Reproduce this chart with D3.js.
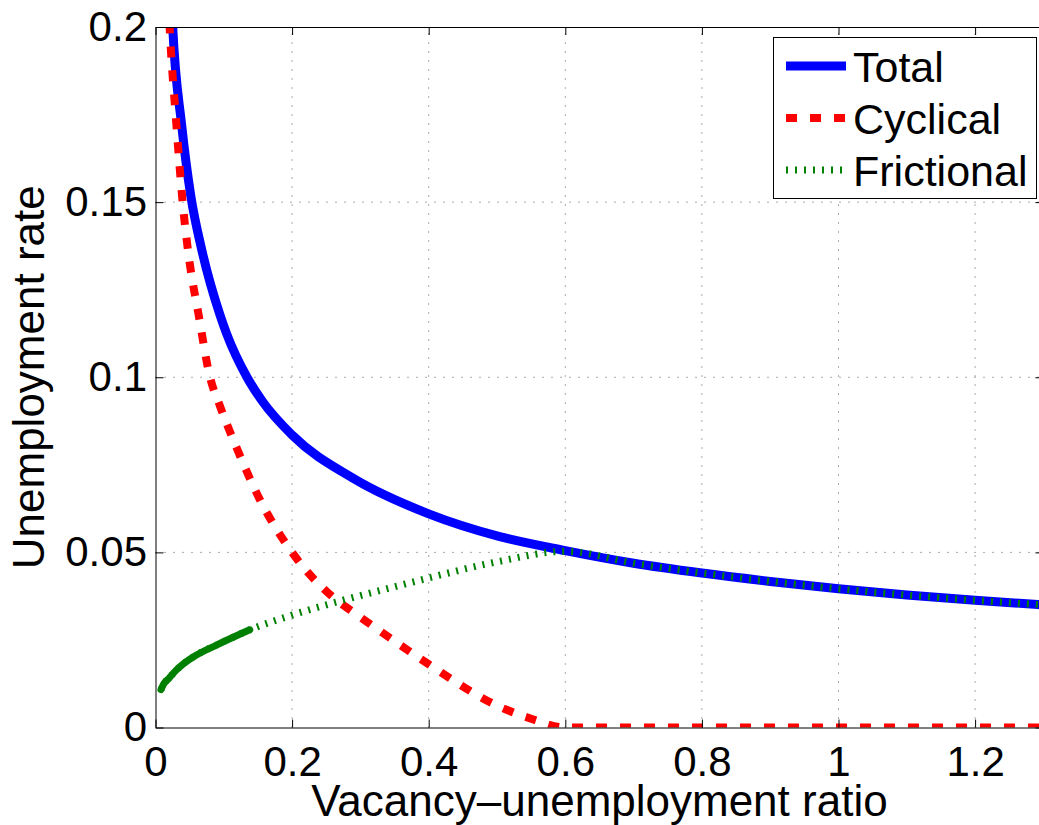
<!DOCTYPE html>
<html>
<head>
<meta charset="utf-8">
<script src="https://cdn.jsdelivr.net/npm/d3@7"></script>
<style>
  body { margin: 0; background: #fff; }
  svg { display: block; font-family: "Liberation Sans", Arial, Helvetica, sans-serif; }
</style>
</head>
<body>
<div class="canvas"></div>
<script>
// values
const totalTheta = [0.022, 0.0252, 0.0383, 0.0515, 0.0676, 0.0944, 0.104, 0.134, 0.157, 0.2, 0.289, 0.4, 0.504, 0.6, 0.7, 0.8, 0.9, 1.0, 1.1, 1.2, 1.3];
const totalRate  = [0.214, 0.200, 0.172, 0.152, 0.1365, 0.1178, 0.1125, 0.100, 0.0930, 0.0835, 0.0712, 0.0610, 0.0545, 0.0505, 0.0469, 0.0441, 0.0417, 0.0396, 0.0378, 0.0363, 0.0350];

const cyclicalTheta = [0.017, 0.0212, 0.030, 0.0407, 0.0505, 0.0627, 0.0798, 0.094, 0.12, 0.153, 0.2, 0.265, 0.289, 0.37, 0.402, 0.504, 0.55, 0.6, 0.8, 1.0, 1.2, 1.3];
const cyclicalRate  = [0.215, 0.198, 0.1736, 0.148, 0.132, 0.1183, 0.100, 0.092, 0.0793, 0.065, 0.050, 0.0364, 0.033, 0.022, 0.0178, 0.0059, 0.0025, 0, 0, 0, 0, 0];

const frictionalTheta = [0.008, 0.012, 0.02, 0.03, 0.041, 0.06, 0.09, 0.138, 0.2, 0.285, 0.35, 0.4, 0.5, 0.6, 0.7, 0.8, 0.9, 1.0, 1.1, 1.2, 1.3];
const frictionalRate  = [0.0108, 0.0124, 0.0141, 0.0163, 0.0182, 0.0207, 0.0236, 0.0279, 0.0321, 0.0369, 0.0402, 0.0427, 0.0473, 0.0503, 0.0469, 0.0441, 0.0417, 0.0396, 0.0378, 0.0363, 0.0350];

const xTicks = [0, 0.2, 0.4, 0.6, 0.8, 1, 1.2];
const yTicks = [0, 0.05, 0.1, 0.15, 0.2];
const legendNames = ["Total", "Cyclical", "Frictional"];

const W = 1039, H = 825;
const plot = { left: 155.5, top: 27, right: 1043.4, bottom: 727.5 };

const svg = d3.select('.canvas')
  .append('svg')
  .attr('width', W)
  .attr('height', H);

const x = d3.scaleLinear().domain([0, 1.3]).range([plot.left, plot.right]);
const y = d3.scaleLinear().domain([0, 0.2]).range([plot.bottom, plot.top]);

svg.append('clipPath').attr('id', 'plotclip')
  .append('rect')
  .attr('x', plot.left).attr('y', plot.top)
  .attr('width', plot.right - plot.left).attr('height', plot.bottom - plot.top);

// dotted grid
const grid = svg.append('g').attr('stroke', '#555').attr('stroke-width', 1).attr('stroke-dasharray', '1,8');
grid.selectAll('.gx').data(xTicks.filter(d => d > 0))
  .enter().append('line')
    .attr('x1', d => x(d)).attr('x2', d => x(d))
    .attr('y1', plot.bottom).attr('y2', plot.top);
grid.selectAll('.gy').data(yTicks.filter(d => d > 0 && d < 0.2))
  .enter().append('line')
    .attr('y1', d => y(d)).attr('y2', d => y(d))
    .attr('x1', plot.left).attr('x2', plot.right);

// curves
const line = (xs, ys) => d3.line()
  .x((d, i) => x(xs[i]))
  .y(d => y(d))
  .curve(d3.curveMonotoneX)(ys);

const curves = svg.append('g').attr('clip-path', 'url(#plotclip)').attr('fill', 'none');

curves.append('path')
  .attr('d', line(totalTheta, totalRate))
  .attr('stroke', '#0000ff')
  .attr('stroke-width', 9);

curves.append('path')
  .attr('d', line(cyclicalTheta, cyclicalRate))
  .attr('stroke', '#ff0000')
  .attr('stroke-width', 8)
  .attr('stroke-dasharray', '11,13');

curves.append('path')
  .attr('d', line(frictionalTheta, frictionalRate))
  .attr('stroke', '#008000')
  .attr('stroke-width', 7)
  .attr('stroke-dasharray', '2,7');

// where the samples are dense the dotted line reads as solid in the original
const nDense = 8;
curves.append('path')
  .attr('d', line(frictionalTheta.slice(0, nDense), frictionalRate.slice(0, nDense)))
  .attr('stroke', '#008000')
  .attr('stroke-width', 7)
  .attr('stroke-linecap', 'round');

// axes, ticks pointing inward
const fmt = d => String(d);

svg.append('g')
  .attr('transform', `translate(0,${plot.bottom})`)
  .call(d3.axisBottom(x).tickValues(xTicks).tickFormat(fmt).tickSizeInner(-8).tickSizeOuter(0).tickPadding(19));

svg.append('g')
  .attr('transform', `translate(0,${plot.top})`)
  .call(d3.axisTop(x).tickValues(xTicks).tickFormat('').tickSizeInner(-8).tickSizeOuter(0));

svg.append('g')
  .attr('transform', `translate(${plot.left},0)`)
  .call(d3.axisLeft(y).tickValues(yTicks).tickFormat(fmt).tickSizeInner(-8).tickSizeOuter(0).tickPadding(8.5));

svg.append('g')
  .attr('transform', `translate(${plot.right},0)`)
  .call(d3.axisRight(y).tickValues(yTicks).tickFormat('').tickSizeInner(-8).tickSizeOuter(0));

svg.selectAll('.domain, .tick line').attr('stroke', '#000').attr('stroke-width', 1);
svg.selectAll('.tick text').attr('font-size', 42).attr('fill', '#000')
  .attr('font-family', '"Liberation Sans", Arial, sans-serif');

// axis labels
svg.append('text')
  .attr('x', (plot.left + plot.right) / 2)
  .attr('y', 816)
  .attr('text-anchor', 'middle')
  .attr('font-size', 44)
  .text('Vacancy\u2013unemployment ratio');

svg.append('text')
  .attr('transform', `translate(44,${(plot.top + plot.bottom) / 2}) rotate(-90)`)
  .attr('text-anchor', 'middle')
  .attr('font-size', 44)
  .text('Unemployment rate');

// legend
const legend = svg.append('g');
legend.append('rect')
  .attr('x', 773.5).attr('y', 37.5)
  .attr('width', 263).attr('height', 161)
  .attr('fill', '#fff').attr('stroke', '#000').attr('stroke-width', 1);

const legendStyle = [
  { color: '#0000ff', width: 9, dash: null },
  { color: '#ff0000', width: 8, dash: '11,13' },
  { color: '#008000', width: 7, dash: '2,7' }
];

legendNames.forEach((name, i) => {
  const cy = 66 + i * 52;
  legend.append('line')
    .attr('x1', 786).attr('x2', 846)
    .attr('y1', cy).attr('y2', cy)
    .attr('stroke', legendStyle[i].color)
    .attr('stroke-width', legendStyle[i].width)
    .attr('stroke-dasharray', legendStyle[i].dash);
  legend.append('text')
    .attr('x', 853)
    .attr('y', cy + 16)
    .attr('font-size', 43)
    .text(name);
});
</script>
</body>
</html>
